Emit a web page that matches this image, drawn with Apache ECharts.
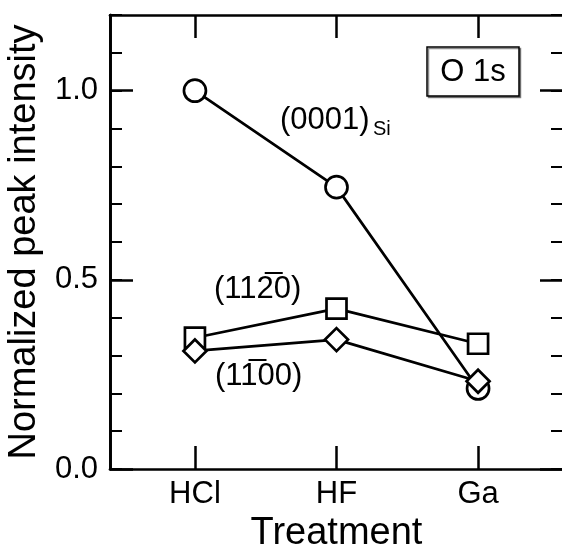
<!DOCTYPE html>
<html>
<head>
<meta charset="utf-8">
<script src="https://cdn.jsdelivr.net/npm/echarts@6/dist/echarts.min.js"></script>
<style>
html,body{margin:0;padding:0;background:#fff;}
#c{width:562px;height:549px;}
</style>
</head>
<body>
<div id="c"></div>
<script>
// ---- data ----
var categories = ['HCl', 'HF', 'Ga'];
var catPos = [1, 2, 3];
var si0001 = [1.0, 0.745, 0.213];
var a1120 = [0.347, 0.424, 0.331];
var m1100 = [0.312, 0.342, 0.232];
var yMajorTicks = [0, 0.5, 1.0];

var FONT = "'Liberation Sans', Arial, Helvetica, sans-serif";

function pairs(vals) {
  return vals.map(function (v, i) { return [catPos[i], v]; });
}

var chart = echarts.init(document.getElementById('c'), null, {renderer: 'canvas'});

var lineStyle = {color: '#000', width: 2.7};
var itemStyle = {color: '#fff', borderColor: '#000', borderWidth: 2.7};

function mkSeries(name, vals, symbol, size) {
  return {
    name: name, type: 'line', data: pairs(vals),
    symbol: symbol, symbolSize: size, showAllSymbol: true,
    lineStyle: lineStyle, itemStyle: itemStyle,
    emphasis: {disabled: true}, animation: false, z: 3
  };
}

function yAx(pos, major, labels, withName) {
  var ax = {
    type: 'value', position: pos, min: 0, max: 1.2,
    splitLine: {show: false},
    axisLine: {show: true, onZero: false, lineStyle: {color: '#000', width: 2.7}},
    axisTick: {show: true, inside: true, length: major ? 23 : 12,
      lineStyle: {color: '#000', width: major ? 2.5 : 2}},
    axisLabel: {show: false}
  };
  if (major) {
    ax.axisTick.customValues = yMajorTicks;
  } else {
    ax.interval = 0.1;
  }
  if (labels) {
    ax.axisLabel = {show: true, customValues: yMajorTicks, margin: 12,
      formatter: function (v) { return v.toFixed(1); },
      color: '#000', fontSize: 31, fontFamily: FONT};
  }
  if (withName) {
    ax.name = 'Normalized peak intensity';
    ax.nameLocation = 'middle';
    ax.nameGap = 63;
    ax.nameTextStyle = {color: '#000', fontSize: 38, fontFamily: FONT};
  }
  return ax;
}

function xAx(pos, labels) {
  var ax = {
    type: 'value', position: pos, min: 0.4, max: 3.6,
    splitLine: {show: false},
    axisLine: {show: true, onZero: false, lineStyle: {color: '#000', width: 2.7}},
    axisTick: {show: true, inside: true, length: 23, customValues: catPos,
      lineStyle: {color: '#000', width: 2.5}},
    axisLabel: {show: false}
  };
  if (labels) {
    ax.axisLabel = {show: true, customValues: catPos, margin: 10,
      formatter: function (v) { return categories[Math.round(v) - 1] || ''; },
      color: '#000', fontSize: 31, fontFamily: FONT};
    ax.name = 'Treatment';
    ax.nameLocation = 'middle';
    ax.nameGap = 45;
    ax.nameTextStyle = {color: '#000', fontSize: 38, fontFamily: FONT};
  }
  return ax;
}

var option = {
  animation: false,
  backgroundColor: '#fff',
  grid: {left: 110, top: 15, width: 453, height: 454, containLabel: false, outerBoundsMode: 'none'},
  xAxis: [xAx('bottom', true), xAx('top', false)],
  yAxis: [yAx('left', true, true, true), yAx('left', false, false, false),
          yAx('right', true, false, false), yAx('right', false, false, false)],
  series: [
    mkSeries('(0001)Si', si0001, 'circle', 22),
    mkSeries('(11-20)', a1120, 'rect', 20),
    mkSeries('(1-100)', m1100, 'diamond', 23)
  ],
  graphic: [
    {type: 'text', z: 10, style: {text: '(0001)', x: 280, y: 120, font: '31px ' + FONT, fill: '#000', verticalAlign: 'middle', align: 'left'}},
    {type: 'text', z: 10, style: {text: 'Si', x: 373, y: 129, font: '20px ' + FONT, fill: '#000', verticalAlign: 'middle', align: 'left'}},
    {type: 'text', z: 10, style: {text: '(112\u03050)', x: 214, y: 289, font: '31px ' + FONT, fill: '#000', verticalAlign: 'middle', align: 'left'}},
    {type: 'text', z: 10, style: {text: '(11\u030500)', x: 215, y: 376, font: '31px ' + FONT, fill: '#000', verticalAlign: 'middle', align: 'left'}},
    {type: 'rect', z: 10, shape: {x: 427, y: 47, width: 92, height: 49},
      style: {fill: '#fff', stroke: '#000', lineWidth: 1.5, shadowColor: 'rgba(0,0,0,0.45)', shadowOffsetX: 1.5, shadowOffsetY: 1.5, shadowBlur: 0}},
    {type: 'text', z: 11, style: {text: 'O 1s', x: 473, y: 72, font: '31px ' + FONT, fill: '#000', verticalAlign: 'middle', align: 'center'}}
  ]
};
chart.setOption(option);
</script>
</body>
</html>
